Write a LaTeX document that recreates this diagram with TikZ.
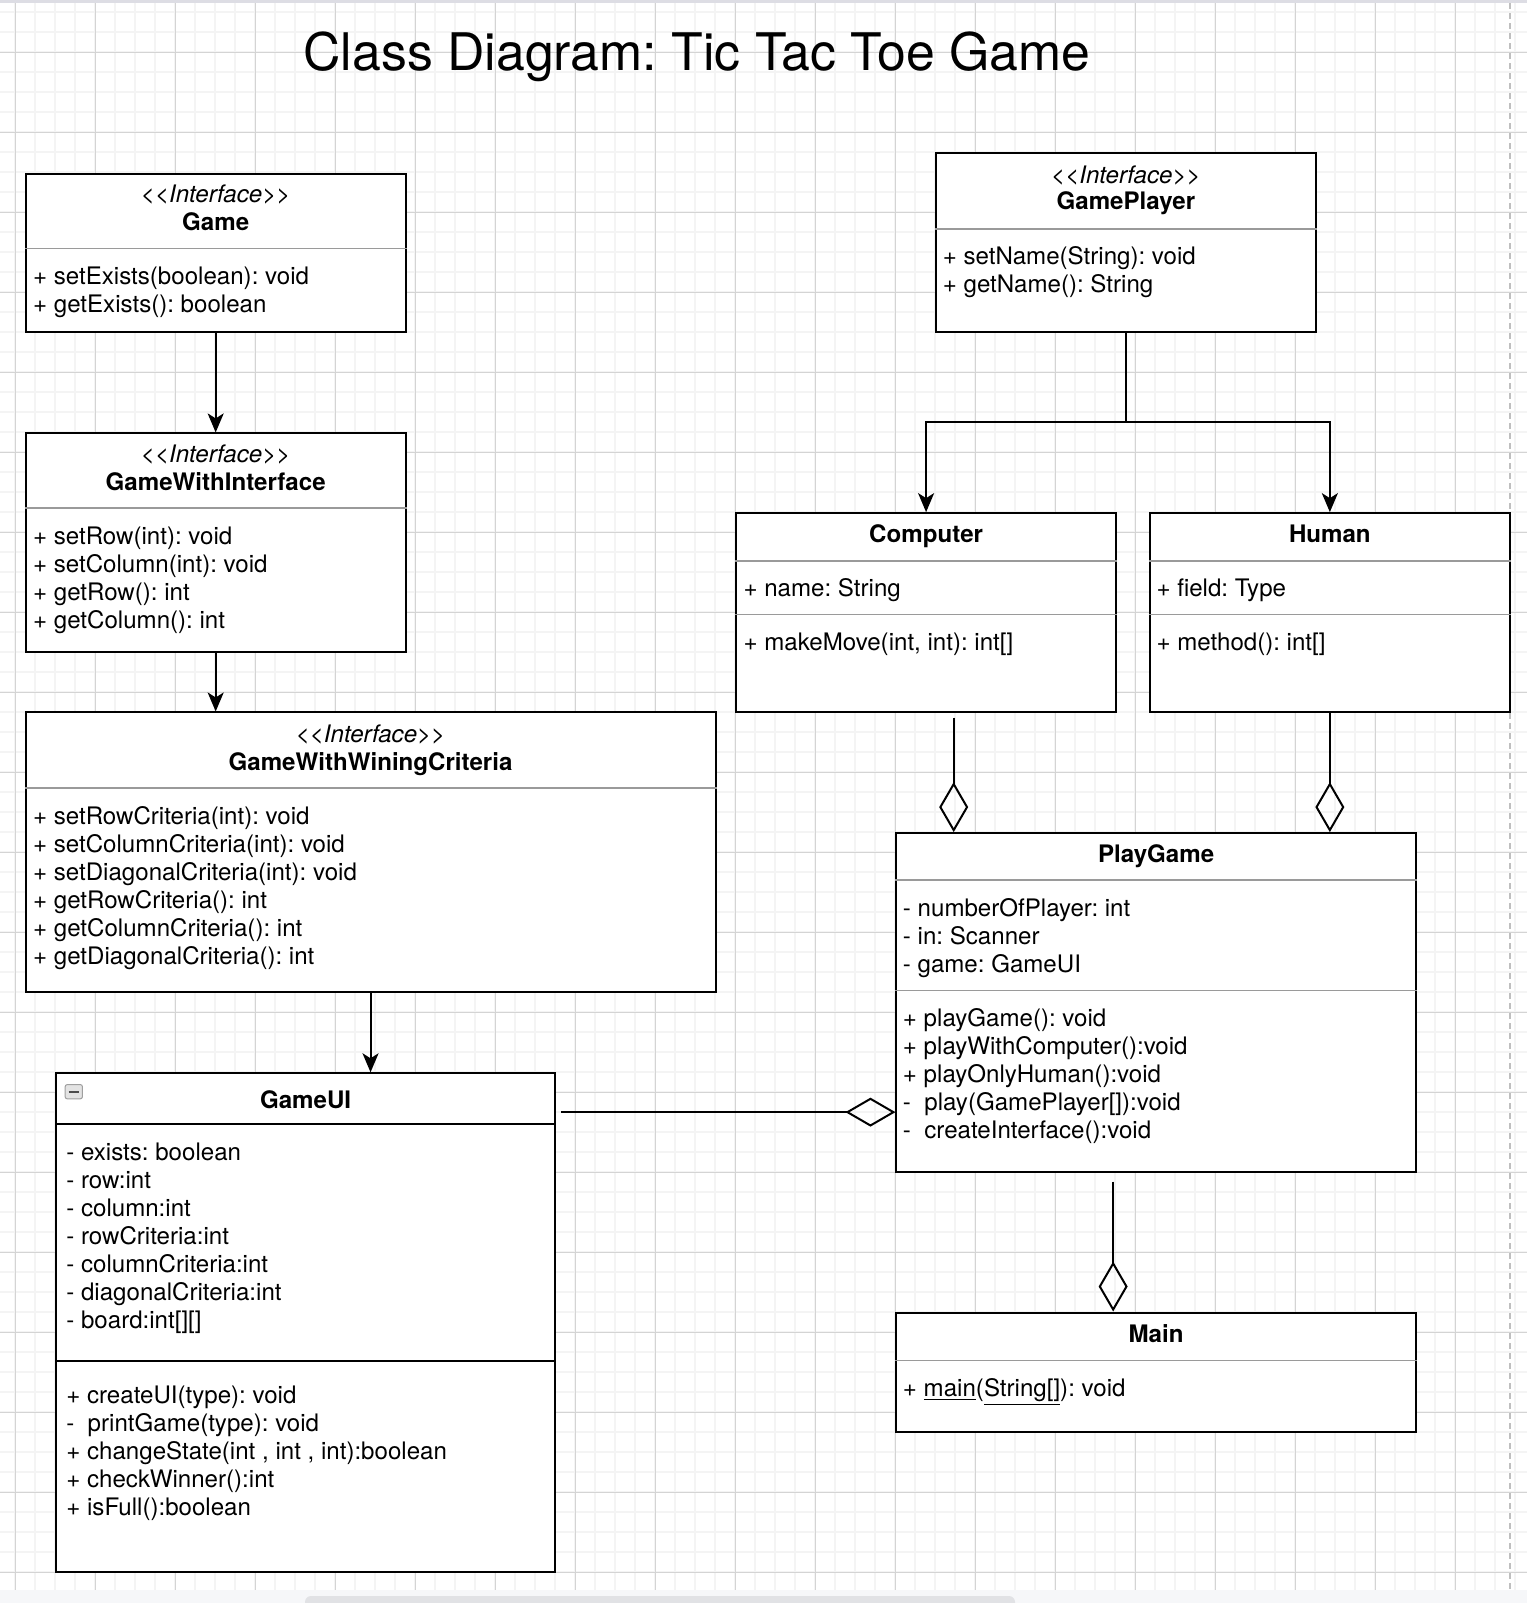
\documentclass[tikz,border=0pt]{standalone}
\usepackage{fontspec}
\setmainfont{TeX Gyre Heros}
\usetikzlibrary{arrows.meta,positioning,fit,calc}
\frenchspacing

\definecolor{gridminor}{HTML}{F4F4F4}
\definecolor{gridmajor}{HTML}{D4D4D4}
\definecolor{pagegray}{HTML}{F6F7F9}
\definecolor{bargray}{HTML}{E1E2E5}
\definecolor{topband}{HTML}{DDDDE4}
\definecolor{divgray}{HTML}{9A9A9A}

\newcommand\umlsize{\fontsize{12.05pt}{14pt}\selectfont}
\newcommand\ifacelabel{<\kern0pt<Interface>\kern0pt>}

\begin{document}
\begin{tikzpicture}[
  x=0.5111pt, y=-0.5111pt,
  font=\umlsize,
  classbox/.style={draw, line width=1pt, fill=white, inner sep=0pt},
  divider/.style={draw=divgray, line width=0.7pt},
  stereo/.style={anchor=base, inner sep=0pt, font=\umlsize\itshape},
  cname/.style={anchor=base, inner sep=0pt, font=\umlsize\bfseries},
  member/.style={anchor=base west, inner sep=0pt},
  inherit/.style={line width=1pt, -{Stealth[length=9.5pt, width=8pt, inset=2.5pt]}},
  aggr/.style={line width=1pt, -{Diamond[open, length=25pt, width=14.5pt]}}
]

% ===============================================================
% Canvas: grid, page edges
% ===============================================================
\begin{scope}[x=0.5pt, y=-0.5pt]
\useasboundingbox (0,0) rectangle (1527,1603);
\fill[white] (0,0) rectangle (1527,1590);
\foreach \gx in {15,35,...,1515} \draw[gridminor, line width=0.8pt] (\gx,3) -- (\gx,1590);
\foreach \gy in {12,32,...,1572} \draw[gridminor, line width=0.8pt] (0,\gy) -- (1527,\gy);
\foreach \gx in {15,95,...,1495} \draw[gridmajor, line width=0.5pt] (\gx,3) -- (\gx,1590);
\foreach \gy in {52,132,...,1572} \draw[gridmajor, line width=0.5pt] (0,\gy) -- (1527,\gy);
\fill[topband] (0,0) rectangle (1527,3);
\fill[pagegray] (0,1590) rectangle (1527,1603);
\fill[bargray, rounded corners=3pt] (305,1596) rectangle (1015,1610);
% page border
\draw[black!25, line width=1.1pt, dash pattern=on 3pt off 2pt] (1510,3) -- (1510,1590);
\end{scope}

% title
\node[anchor=base, font=\fontsize{25.9pt}{30pt}\selectfont] (title) at (682,69) {Class Diagram: Tic Tac Toe Game};

% ===============================================================
% Left column: interfaces
% ===============================================================

% Game
\node[classbox, fit={(25,170) (397,325)}] (game) {};
\node[stereo] (gamest) at (211,198.4) {\ifacelabel};
\node[cname] (gamename) at (211,225.4) {Game};
\draw[divider] (game.west |- 0,243) -- (game.east |- 0,243);
\foreach \txt [count=\i from 0] in {{+ setExists(boolean): void}, {+ getExists(): boolean}}
  \node[member] (gameop\i) at (32,{278.4+27.4*\i}) {\txt};

% GameWithInterface
\node[classbox, fit={(25,424) (397,638)}] (gwi) {};
\node[stereo] (gwist) at (211,452.4) {\ifacelabel};
\node[cname] (gwiname) at (211,479.4) {GameWithInterface};
\draw[divider] (gwi.west |- 0,497) -- (gwi.east |- 0,497);
\foreach \txt [count=\i from 0] in {{+ setRow(int): void}, {+ setColumn(int): void}, {+ getRow(): int}, {+ getColumn(): int}}
  \node[member] (gwiop\i) at (32,{532.4+27.4*\i}) {\txt};

% GameWithWiningCriteria
\node[classbox, fit={(25,697) (700,970)}] (gwwc) {};
\node[stereo] (gwwcst) at (362.5,726.4) {\ifacelabel};
\node[cname] (gwwcname) at (362.5,753.4) {GameWithWiningCriteria};
\draw[divider] (gwwc.west |- 0,771) -- (gwwc.east |- 0,771);
\foreach \txt [count=\i from 0] in {{+ setRowCriteria(int): void}, {+ setColumnCriteria(int): void},
    {+ setDiagonalCriteria(int): void}, {+ getRowCriteria(): int}, {+ getColumnCriteria(): int},
    {+ getDiagonalCriteria(): int}}
  \node[member] (gwwcop\i) at (32,{806.4+27.4*\i}) {\txt};

% GameUI (collapsible)
\node[classbox, fit={(55,1050) (543,1538)}] (gameui) {};
\node[draw=gray!75, fill=gray!22, rounded corners=1pt, line width=0.5pt, inner sep=0pt,
      minimum width=8.6pt, minimum height=7.1pt] (uicollapse) at (72.2,1068)
      {\textcolor{black!70}{\rule{5.2pt}{1.1pt}}};
\node[cname] (gameuiname) at (299,1084.4) {GameUI};
\draw[line width=1pt] (gameui.west |- 0,1100) -- (gameui.east |- 0,1100);
\foreach \txt [count=\i from 0] in {{- exists: boolean}, {- row:int}, {- column:int}, {- rowCriteria:int},
    {- columnCriteria:int}, {- diagonalCriteria:int}, {- board:int[][]}}
  \node[member] (gameuiattr\i) at (64.5,{1135.4+27.4*\i}) {\txt};
\draw[line width=1pt] (gameui.west |- 0,1331) -- (gameui.east |- 0,1331);
\foreach \txt [count=\i from 0] in {{+ createUI(type): void}, {-~ printGame(type): void},
    {+ changeState(int , int , int):boolean}, {+ checkWinner():int}, {+ isFull():boolean}}
  \node[member] (gameuiop\i) at (64.5,{1373.4+27.4*\i}) {\txt};

% ===============================================================
% Right column: players, PlayGame, Main
% ===============================================================

% GamePlayer
\node[classbox, fit={(916,150) (1287,325)}] (gplayer) {};
\node[stereo] (gplayerst) at (1101.5,179.4) {\ifacelabel};
\node[cname] (gplayername) at (1101.5,205.4) {GamePlayer};
\draw[divider] (gplayer.west |- 0,224) -- (gplayer.east |- 0,224);
\foreach \txt [count=\i from 0] in {{+ setName(String): void}, {+ getName(): String}}
  \node[member] (gplayerop\i) at (922,{258.4+27.5*\i}) {\txt};

% Computer
\node[classbox, fit={(720,502) (1092,697)}] (computer) {};
\node[cname] (computername) at (906,530.4) {Computer};
\draw[divider] (computer.west |- 0,549) -- (computer.east |- 0,549);
\node[member] (computerattr) at (727,583.4) {+ name: String};
\draw[divider] (computer.west |- 0,601) -- (computer.east |- 0,601);
\node[member] (computerop) at (727,636.4) {+ makeMove(int, int): int[]};

% Human
\node[classbox, fit={(1125,502) (1477,697)}] (human) {};
\node[cname] (humanname) at (1301,530.4) {Human};
\draw[divider] (human.west |- 0,549) -- (human.east |- 0,549);
\node[member] (humanattr) at (1131,583.4) {+ field: Type};
\draw[divider] (human.west |- 0,601) -- (human.east |- 0,601);
\node[member] (humanop) at (1131,636.4) {+ method(): int[]};

% PlayGame
\node[classbox, fit={(877,815) (1385,1147)}] (playgame) {};
\node[cname] (playgamename) at (1131,843.4) {PlayGame};
\draw[divider] (playgame.west |- 0,861) -- (playgame.east |- 0,861);
\foreach \txt [count=\i from 0] in {{- numberOfPlayer: int}, {- in: Scanner}, {- game: GameUI}}
  \node[member] (playgameattr\i) at (883,{896.4+27.4*\i}) {\txt};
\draw[divider] (playgame.west |- 0,969) -- (playgame.east |- 0,969);
\foreach \txt [count=\i from 0] in {{+ playGame(): void}, {+ playWithComputer():void}, {+ playOnlyHuman():void},
    {-~ play(GamePlayer[]):void}, {-~ createInterface():void}}
  \node[member] (playgameop\i) at (883,{1004.4+27.4*\i}) {\txt};

% Main
\node[classbox, fit={(877,1284) (1385,1401)}] (main) {};
\node[cname] (mainname) at (1131,1313.4) {Main};
\draw[divider] (main.west |- 0,1331) -- (main.east |- 0,1331);
\node[member] (mainop) at (883,1366.4) {+ \underline{main}(\underline{String[]}): void};

% ===============================================================
% Connectors
% ===============================================================
\draw[inherit] (game.south) -- (gwi.north);
\draw[inherit] (gwi.south) -- (gwi.south |- gwwc.north);
\draw[inherit] (gwwc.south) -- (gwwc.south |- gameui.north);

\coordinate (split) at (1101.5,413);
\draw[inherit] (gplayer.south) -- (split) -| (computer.north);
\draw[inherit] (split) -| (human.north);

\coordinate (compfoot) at (933,702);
\draw[aggr] (compfoot) -- (compfoot |- playgame.north);
\draw[aggr] (human.south) -- (human.south |- playgame.north);

\coordinate (uiout) at (549,1088);
\draw[aggr] (uiout) -- (uiout -| playgame.west);

\coordinate (pgfoot) at (1089,1156);
\draw[aggr] (pgfoot) -- (pgfoot |- main.north);

\end{tikzpicture}
\end{document}
